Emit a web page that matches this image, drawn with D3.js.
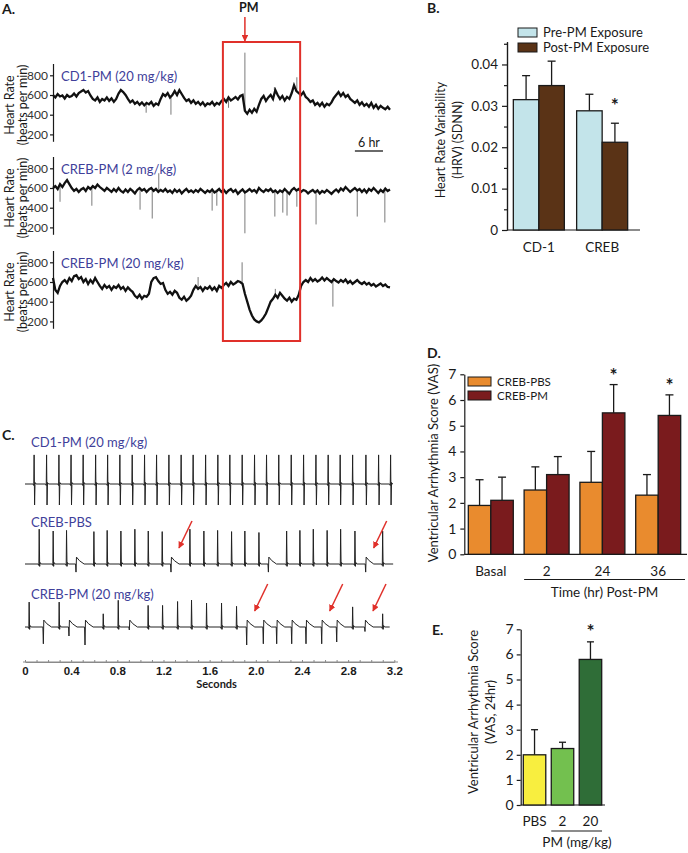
<!DOCTYPE html>
<html lang="en">
<head>
<meta charset="UTF-8">
<title>PM exposure: heart rate, HRV and arrhythmia</title>
<script src="https://d3js.org/d3.v7.min.js"></script>
<style>
  body { margin: 0; background: #fff; }
  svg { font-family: Lato, "Open Sans", sans-serif; }
</style>
</head>
<body>
<script>
const width = 688, height = 853;

// ---------- A. heart rate telemetry, one value every 0.5 h over 72 h
const hrStep = 0.5;
const hrTicks = [200, 400, 600, 800];
const hrCD1 = [600,575,610,585,595,565,600,580,590,615,585,620,
  635,650,625,640,
  595,560,545,575,530,560,545,575,540,565,530,560,
  615,650,630,600,
  560,525,545,510,530,500,525,495,520,505,530,490,515,500,
  560,610,590,620,575,600,
  640,600,650,610,
  570,540,555,520,545,510,530,500,525,490,515,505,530,495,520,505,
  540,560,530,575,545,560,580,555,590,600,
  440,410,450,420,460,430,
  500,560,590,540,575,600,
  560,650,600,560,590,545,
  580,560,620,700,640,
  620,600,630,580,560,530,545,500,520,
  490,520,480,510,495,525,
  570,600,630,590,620,580,600,560,
  540,520,545,500,525,490,510,480,520,470,500,460,490,470,455,480,450];
const hrCREB2 = [600,620,590,640,610,650,680,640,600,570,590,560,
  585,600,570,610,590,620,600,635,610,590,570,600,
  580,560,590,565,600,570,555,585,560,590,570,545,
  580,600,575,590,560,585,600,570,590,560,580,565,
  590,560,575,550,585,560,580,545,570,590,560,575,
  555,580,560,590,570,550,575,560,585,555,570,590,
  560,580,550,575,590,560,580,540,565,585,555,570,
  590,565,580,555,600,575,560,585,570,590,560,575,
  550,575,560,590,565,540,580,600,575,590,560,580,
  570,545,565,580,555,575,545,570,555,580,560,540,
  565,585,560,595,575,610,585,560,580,600,575,590,
  560,585,555,590,570,600,575,550,580,560,595,570,585];
const hrCREB20 = [640,520,490,560,600,620,
  590,640,610,660,670,630,
  650,600,630,580,620,590,640,600,
  560,530,570,540,560,520,555,540,
  570,530,550,510,545,520,500,
  460,440,470,430,460,450,480,
  600,640,650,610,580,590,
  520,480,500,470,510,490,
  440,420,450,410,430,460,
  520,560,530,550,510,545,
  530,555,520,545,510,560,540,
  570,590,560,600,575,590,610,600,
  580,480,400,
  320,260,220,200,
  190,210,240,280,
  340,400,430,470,
  440,490,460,430,
  410,440,400,430,420,
  470,560,600,
  620,600,640,610,630,605,620,645,615,640,620,600,
  630,610,595,620,600,625,590,610,580,600,620,595,
  580,600,575,590,565,580,555,570,585,560,575,550,545];
// isolated excursions drawn as thin grey strokes: [hour, beats per min]
const spikesCD1 = [[19.9,420],[25.2,400],[37.5,470],[41,1030],[47.3,680],[52.1,780]];
const spikesCREB2 = [[1.5,460],[8.3,420],[18.6,380],[21.2,290],[22.6,750],[34,370],[35,420],[41,140],
  [47.4,310],[49.1,350],[50,320],[52.1,410],[56.2,230],[65,310],[70.9,250]];
const spikesCREB20 = [[31,650],[40.4,800],[47.5,530],[59.8,350]];
const pmHour = 41;
const pmWindow = [36.3, 52.8];

// ---------- B. heart rate variability
const hrvGroups = ["CD-1", "CREB"];
const hrvSeries = ["Pre-PM Exposure", "Post-PM Exposure"];
const hrvMean = [[0.0315, 0.0349], [0.0288, 0.0212]];
const hrvSem = [[0.0058, 0.0059], [0.0040, 0.0046]];
const hrvSig = [[false, false], [false, true]];
const hrvColors = ["#c3e4ea", "#5a3316"];

// ---------- C. ECG strips, beats: [seconds, kind, amplitude mV]
// kind: B biphasic QRS, N upright QRS, V ventricular ectopic
const ecgTicks = [0, 0.4, 0.8, 1.2, 1.6, 2.0, 2.4, 2.8, 3.2];
const ecgCD1 = [0.08,0.188,0.295,0.4,0.505,0.613,0.717,0.823,0.93,1.037,1.141,1.248,1.354,1.458,1.566,
  1.672,1.776,1.883,1.99,2.094,2.2,2.308,2.415,2.522,2.628,2.732,2.84,2.955,3.065,3.169].map(t => [t, "B", 0.97]);
const ecgPBS = [[0.124,"N",1.16],[0.245,"N",1.1],[0.361,"N",1.12],[0.442,"V",0.27],[0.598,"N",1.08],[0.713,"N",1.12],
  [0.832,"N",1.1],[0.953,"N",1.16],[1.069,"N",1.1],[1.19,"N",1.08],[1.265,"V",0.27],[1.43,"N",1.16],[1.551,"N",1.1],
  [1.67,"N",1.12],[1.791,"N",1.08],[1.906,"N",1.1],[2.028,"N",1.05],[2.109,"V",0.27],[2.268,"N",1.1],[2.383,"N",1.12],
  [2.499,"N",1.16],[2.619,"N",1.12],[2.736,"N",1.16],[2.86,"N",1.1],[2.952,"V",0.27],[3.1,"N",1.1]];
const ecgPM = [[0.037,"N",0.83],[0.159,"V",0.56],[0.297,"N",0.83],[0.381,"V",0.3],[0.52,"V",0.6],[0.679,"N",0.44],
  [0.809,"N",0.89],[0.904,"V",0.1],[1.068,"N",0.72],[1.193,"N",0.72],[1.323,"N",0.85],[1.444,"N",0.9],[1.574,"N",0.8],
  [1.704,"N",0.8],[1.834,"N",0.69],[1.921,"V",0.6],[2.065,"V",0.56],[2.181,"V",0.56],[2.311,"V",0.56],[2.435,"V",0.56],
  [2.571,"V",0.56],[2.701,"V",0.5],[2.84,"N",0.67],[2.946,"V",0.15],[3.1,"N",0.44]];
const arrowsPBS = [1.265, 2.952];
const arrowsPM = [1.921, 2.571, 2.946];

// ---------- D. arrhythmia score over time
const vasTimes = ["Basal", "2", "24", "36"];
const vasSeries = ["CREB-PBS", "CREB-PM"];
const vasPBS = [1.9, 2.5, 2.8, 2.3];
const vasPBSErr = [1.0, 0.9, 1.2, 0.8];
const vasPM = [2.1, 3.1, 5.5, 5.4];
const vasPMErr = [0.9, 0.7, 1.1, 0.8];
const vasPMSig = [false, false, true, true];
const vasColors = ["#e98b2e", "#7a1b1d"];

// ---------- E. arrhythmia score by dose
const doseLabels = ["PBS", "2", "20"];
const doseVAS = [2.0, 2.25, 5.8];
const doseErr = [1.0, 0.25, 0.7];
const doseSig = [false, false, true];
const doseColors = ["#f8ee3f", "#73c04f", "#2f6d37"];

const ink = "#1a1a1a";
const red = "#e0302a";
const blueText = "#40409a";

let svg = d3.select("body").append("svg")
    .attr("width", width)
    .attr("height", height);
svg.append("rect").attr("width", width).attr("height", height).attr("fill", "#fff");

let defs = svg.append("defs");
defs.append("marker").attr("id", "redHead")
    .attr("viewBox", "0 0 10 10").attr("refX", 9).attr("refY", 5)
    .attr("markerWidth", 4.5).attr("markerHeight", 4.5)
    .attr("orient", "auto")
    .append("path").attr("d", "M0,0L10,5L0,10z").attr("fill", red);

function panelLetter(x, y, s) {
    svg.append("text").attr("x", x).attr("y", y).text(s)
        .style("font-weight", "bold").style("font-size", "14px").attr("fill", ink);
}

function rotLabel(x, y, s, size) {
    svg.append("text")
        .attr("transform", `translate(${x},${y}) rotate(-90)`)
        .attr("text-anchor", "middle")
        .style("font-size", size + "px")
        .attr("fill", ink)
        .text(s);
}

function styleAxis(g, fontSize) {
    g.selectAll("path, line").attr("stroke", ink).attr("stroke-width", 1.2);
    g.selectAll("text").style("font-size", fontSize + "px").style("font-family", "Lato, sans-serif").attr("fill", ink);
}

function errorBar(g, cx, y, v, e, cap) {
    g.append("line").attr("x1", cx).attr("x2", cx).attr("y1", y(v)).attr("y2", y(v + e))
        .attr("stroke", ink).attr("stroke-width", 1.3);
    g.append("line").attr("x1", cx - cap / 2).attr("x2", cx + cap / 2).attr("y1", y(v + e)).attr("y2", y(v + e))
        .attr("stroke", ink).attr("stroke-width", 1.3);
}

function star(g, cx, yTop) {
    g.append("text").attr("x", cx).attr("y", yTop - 3).attr("text-anchor", "middle")
        .style("font-size", "19px").style("font-weight", "bold").attr("fill", ink).text("*");
}

// ================= A =================
panelLetter(2, 14, "A.");
const hrX = d3.scaleLinear().domain([0, 72]).range([53, 390]);
const hrPanels = [
    { label: "CD1-PM (20 mg/kg)", values: hrCD1, spikes: spikesCD1, base: 95 },
    { label: "CREB-PM (2 mg/kg)", values: hrCREB2, spikes: spikesCREB2, base: 188 },
    { label: "CREB-PM (20 mg/kg)", values: hrCREB20, spikes: spikesCREB20, base: 282 }
];
hrPanels.forEach(p => {
    const y0 = d3.scaleLinear().domain([600, 800]).range([p.base, p.base - 19.7]);
    const y = d3.scaleLinear().domain([130, 920]).range([y0(130), y0(920)]);
    const ax = svg.append("g").attr("transform", `translate(${hrX(0)},0)`)
        .call(d3.axisLeft(y).tickValues(hrTicks).tickSize(3).tickSizeOuter(0).tickPadding(2));
    styleAxis(ax, 12);
    ax.selectAll("text").attr("fill", "#333");

    // grey excursions
    svg.append("g").selectAll("line").data(p.spikes).join("line")
        .attr("x1", d => hrX(d[0])).attr("x2", d => hrX(d[0]))
        .attr("y1", d => y(p.values[Math.round(d[0] / hrStep)]))
        .attr("y2", d => y(d[1]))
        .attr("stroke", "#7a7a7a").attr("stroke-width", 1);

    const line = d3.line().x((d, i) => hrX(i * hrStep)).y(d => y(d));
    svg.append("path").datum(p.values).attr("d", line)
        .attr("fill", "none").attr("stroke", "#111").attr("stroke-width", 2.3)
        .attr("stroke-linejoin", "miter");

    svg.append("text").attr("x", 61).attr("y", p.base - 14).text(p.label)
        .style("font-size", "13px").attr("fill", blueText);
    rotLabel(14, p.base + 10, "Heart Rate", 12.5);
    rotLabel(27, p.base + 10, "(beats per min)", 12.5);
});

// PM window and arrow
svg.append("rect")
    .attr("x", hrX(pmWindow[0])).attr("y", 42)
    .attr("width", hrX(pmWindow[1]) - hrX(pmWindow[0])).attr("height", 299)
    .attr("fill", "none").attr("stroke", red).attr("stroke-width", 2);
svg.append("line").attr("x1", hrX(pmHour)).attr("x2", hrX(pmHour)).attr("y1", 17).attr("y2", 41)
    .attr("stroke", red).attr("stroke-width", 1.5).attr("marker-end", "url(#redHead)");
svg.append("text").attr("x", hrX(pmHour) + 4).attr("y", 12).attr("text-anchor", "middle")
    .style("font-weight", "bold").style("font-size", "12.5px").attr("fill", ink).text("PM");
// 6 hr scale bar
svg.append("line").attr("x1", hrX(64.5)).attr("x2", hrX(70.5)).attr("y1", 151).attr("y2", 151)
    .attr("stroke", ink).attr("stroke-width", 1.3);
svg.append("text").attr("x", hrX(67.5)).attr("y", 147).attr("text-anchor", "middle")
    .style("font-size", "12.5px").attr("fill", ink).text("6 hr");

// ================= B =================
panelLetter(427, 13, "B.");
const bY = d3.scaleLinear().domain([0, 0.0455]).range([230, 41.7]);
const bX = d3.scaleBand().domain(hrvGroups).range([507, 634]).paddingInner(0.194).paddingOuter(0.1);
const bSub = d3.scaleBand().domain(hrvSeries).range([0, bX.bandwidth()]);
const gB = svg.append("g");
let axB = gB.append("g").attr("transform", "translate(507,0)")
    .call(d3.axisLeft(bY).tickValues([0, 0.01, 0.02, 0.03, 0.04])
        .tickFormat(d => d === 0 ? "0" : d.toFixed(2)).tickSize(5).tickSizeOuter(0).tickPadding(4));
styleAxis(axB, 13.5);
let axBm = gB.append("g").attr("transform", "translate(507,0)")
    .call(d3.axisLeft(bY).tickValues([0.005, 0.015, 0.025, 0.035, 0.045]).tickFormat("").tickSize(3).tickSizeOuter(0));
styleAxis(axBm, 12);
gB.append("line").attr("x1", 507).attr("x2", 640).attr("y1", bY(0)).attr("y2", bY(0))
    .attr("stroke", ink).attr("stroke-width", 1.2);
hrvGroups.forEach((grp, gi) => {
    hrvSeries.forEach((s, si) => {
        const x0 = bX(grp) + bSub(s), w = bSub.bandwidth();
        errorBar(gB, x0 + w / 2, bY, hrvMean[gi][si], hrvSem[gi][si], 8);
        gB.append("rect").attr("x", x0).attr("y", bY(hrvMean[gi][si]))
            .attr("width", w).attr("height", bY(0) - bY(hrvMean[gi][si]))
            .attr("fill", hrvColors[si]).attr("stroke", ink).attr("stroke-width", 1.3);
        if (hrvSig[gi][si]) star(gB, x0 + w / 2, bY(hrvMean[gi][si] + hrvSem[gi][si]) - 8);
    });
    gB.append("text").attr("x", bX(grp) + bX.bandwidth() / 2).attr("y", 252).attr("text-anchor", "middle")
        .style("font-size", "13.5px").attr("fill", ink).text(grp);
});
hrvSeries.forEach((s, si) => {
    gB.append("rect").attr("x", 518).attr("y", 28 + si * 15).attr("width", 19).attr("height", 9)
        .attr("fill", hrvColors[si]).attr("stroke", ink).attr("stroke-width", 1);
    gB.append("text").attr("x", 543).attr("y", 37 + si * 15).style("font-size", "13px")
        .attr("fill", ink).text(s);
});
rotLabel(445, 140, "Heart Rate Variability", 12.5);
rotLabel(462, 140, "(HRV) (SDNN)", 12.5);

// ================= C =================
panelLetter(2, 440, "C.");
const cX = d3.scaleLinear().domain([0, 3.2]).range([25, 394.3]);
const ecgY = d3.scaleLinear().domain([-1, 1]).range([30, -30]);

function ecgPoints(beats, tEnd) {
    const pts = [[0, 0]];
    beats.forEach(([t, kind, a]) => {
        if (kind === "B" || kind === "N") {
            const down = kind === "B" ? 0.7 : 0.08;
            pts.push([t - 0.010, 0], [t - 0.004, -0.05], [t - 0.001, a], [t + 0.003, -down],
                [t + 0.007, 0.05], [t + 0.016, 0]);
        } else {
            pts.push([t - 0.004, 0], [t, -a], [t + 0.004, 0.23], [t + 0.03, 0.11], [t + 0.07, 0]);
        }
    });
    pts.push([tEnd, 0]);
    return pts;
}
const ecgRows = [
    { label: "CD1-PM (20 mg/kg)", beats: ecgCD1, base: 484, labelY: 447, end: 3.18, arrows: [] },
    { label: "CREB-PBS", beats: ecgPBS, base: 564, labelY: 527, end: 3.19, arrows: arrowsPBS },
    { label: "CREB-PM (20 mg/kg)", beats: ecgPM, base: 627, labelY: 599, end: 3.16, arrows: arrowsPM }
];
ecgRows.forEach(r => {
    const line = d3.line().x(d => cX(d[0])).y(d => r.base + ecgY(d[1]));
    svg.append("path").datum(ecgPoints(r.beats, r.end)).attr("d", line)
        .attr("fill", "none").attr("stroke", "#222").attr("stroke-width", 1);
    svg.append("text").attr("x", 31).attr("y", r.labelY).text(r.label)
        .style("font-size", "13px").attr("fill", blueText);
    r.arrows.forEach(t => {
        const tipX = cX(t) + 8, tipY = r.base - 16;
        svg.append("line").attr("x1", tipX + 13).attr("y1", tipY - 27).attr("x2", tipX).attr("y2", tipY)
            .attr("stroke", red).attr("stroke-width", 1.5).attr("marker-end", "url(#redHead)");
    });
});
let axC = svg.append("g").attr("transform", "translate(0,662)")
    .call(d3.axisBottom(cX).tickValues(d3.range(0, 33).map(i => i / 10)).tickFormat("").tickSize(-2).tickSizeOuter(0));
axC.selectAll("path, line").attr("stroke", "#8a8a8a").attr("stroke-width", 1);
let axCl = svg.append("g").attr("transform", "translate(0,662)")
    .call(d3.axisBottom(cX).tickValues(ecgTicks).tickFormat(d => d === 0 ? "0" : d3.format(".1f")(d))
        .tickSize(0).tickPadding(5));
axCl.select(".domain").remove();
axCl.selectAll("text").style("font-size", "11.5px").style("font-weight", "bold").attr("fill", ink);
svg.append("line").attr("x1", 23).attr("x2", 398).attr("y1", 662).attr("y2", 662)
    .attr("stroke", "#8a8a8a").attr("stroke-width", 1);
svg.append("text").attr("x", cX(1.66)).attr("y", 688).attr("text-anchor", "middle")
    .style("font-size", "11px").style("font-weight", "bold").attr("fill", ink).text("Seconds");

// ================= D =================
panelLetter(427, 358, "D.");
const dY = d3.scaleLinear().domain([0, 7]).range([554.3, 374.3]);
const dX = d3.scaleBand().domain(vasTimes).range([464.3, 684.7]).paddingInner(0.194).paddingOuter(0.072);
const dSub = d3.scaleBand().domain(vasSeries).range([0, dX.bandwidth()]);
const gD = svg.append("g");
let axD = gD.append("g").attr("transform", "translate(464.3,0)")
    .call(d3.axisLeft(dY).ticks(7).tickFormat(d3.format("d")).tickSize(4).tickSizeOuter(0).tickPadding(4));
styleAxis(axD, 14);
gD.append("line").attr("x1", 464.3).attr("x2", 687).attr("y1", dY(0)).attr("y2", dY(0))
    .attr("stroke", ink).attr("stroke-width", 1.2);
const vasMeans = [vasPBS, vasPM], vasErrs = [vasPBSErr, vasPMErr];
vasTimes.forEach((c, ci) => {
    vasSeries.forEach((s, si) => {
        const x0 = dX(c) + dSub(s), w = dSub.bandwidth(), v = vasMeans[si][ci], e = vasErrs[si][ci];
        errorBar(gD, x0 + w / 2, dY, v, e, 8);
        gD.append("rect").attr("x", x0).attr("y", dY(v)).attr("width", w).attr("height", dY(0) - dY(v))
            .attr("fill", vasColors[si]).attr("stroke", ink).attr("stroke-width", 1.3);
        if (si === 1 && vasPMSig[ci]) star(gD, x0 + w / 2, dY(v + e));
    });
    gD.append("text").attr("x", dX(c) + dX.bandwidth() / 2).attr("y", 576).attr("text-anchor", "middle")
        .style("font-size", "13.5px").attr("fill", ink).text(c);
});
gD.append("line").attr("x1", dX("2")).attr("x2", 685).attr("y1", 579.5).attr("y2", 579.5)
    .attr("stroke", ink).attr("stroke-width", 1.1);
gD.append("text").attr("x", (dX("2") + 685) / 2).attr("y", 597).attr("text-anchor", "middle")
    .style("font-size", "13.5px").attr("fill", ink).text("Time (hr) Post-PM");
vasSeries.forEach((s, si) => {
    gD.append("rect").attr("x", 468).attr("y", 377 + si * 14).attr("width", 23).attr("height", 9)
        .attr("fill", vasColors[si]).attr("stroke", ink).attr("stroke-width", 1);
    gD.append("text").attr("x", 497).attr("y", 385.5 + si * 14).style("font-size", "11.5px")
        .attr("fill", ink).text(s);
});
rotLabel(438, 463, "Ventricular Arrhythmia Score (VAS)", 13);

// ================= E =================
panelLetter(432, 635, "E.");
const eY = d3.scaleLinear().domain([0, 7]).range([805, 629.3]);
const eX = d3.scaleBand().domain(doseLabels).range([520.7, 604.3]).paddingInner(0.196).paddingOuter(0.093);
const gE = svg.append("g");
let axE = gE.append("g").attr("transform", "translate(520.7,0)")
    .call(d3.axisLeft(eY).ticks(7).tickFormat(d3.format("d")).tickSize(4).tickSizeOuter(0).tickPadding(3));
styleAxis(axE, 14);
gE.append("line").attr("x1", 520.7).attr("x2", 605).attr("y1", eY(0)).attr("y2", eY(0))
    .attr("stroke", ink).attr("stroke-width", 1.2);
doseLabels.forEach((c, i) => {
    const x0 = eX(c), w = eX.bandwidth();
    errorBar(gE, x0 + w / 2, eY, doseVAS[i], doseErr[i], 7);
    gE.append("rect").attr("x", x0).attr("y", eY(doseVAS[i])).attr("width", w).attr("height", eY(0) - eY(doseVAS[i]))
        .attr("fill", doseColors[i]).attr("stroke", ink).attr("stroke-width", 1.3);
    if (doseSig[i]) star(gE, x0 + w / 2, eY(doseVAS[i] + doseErr[i]) - 1);
    gE.append("text").attr("x", x0 + w / 2).attr("y", 826).attr("text-anchor", "middle")
        .style("font-size", "13.5px").attr("fill", ink).text(c);
});
gE.append("line").attr("x1", eX("2")).attr("x2", 602).attr("y1", 831).attr("y2", 831)
    .attr("stroke", ink).attr("stroke-width", 1.1);
gE.append("text").attr("x", 577).attr("y", 847).attr("text-anchor", "middle")
    .style("font-size", "13.5px").attr("fill", ink).text("PM (mg/kg)");
rotLabel(478, 712, "Ventricular Arrhythmia Score", 13);
rotLabel(495, 712, "(VAS, 24hr)", 13);
</script>
</body>
</html>
